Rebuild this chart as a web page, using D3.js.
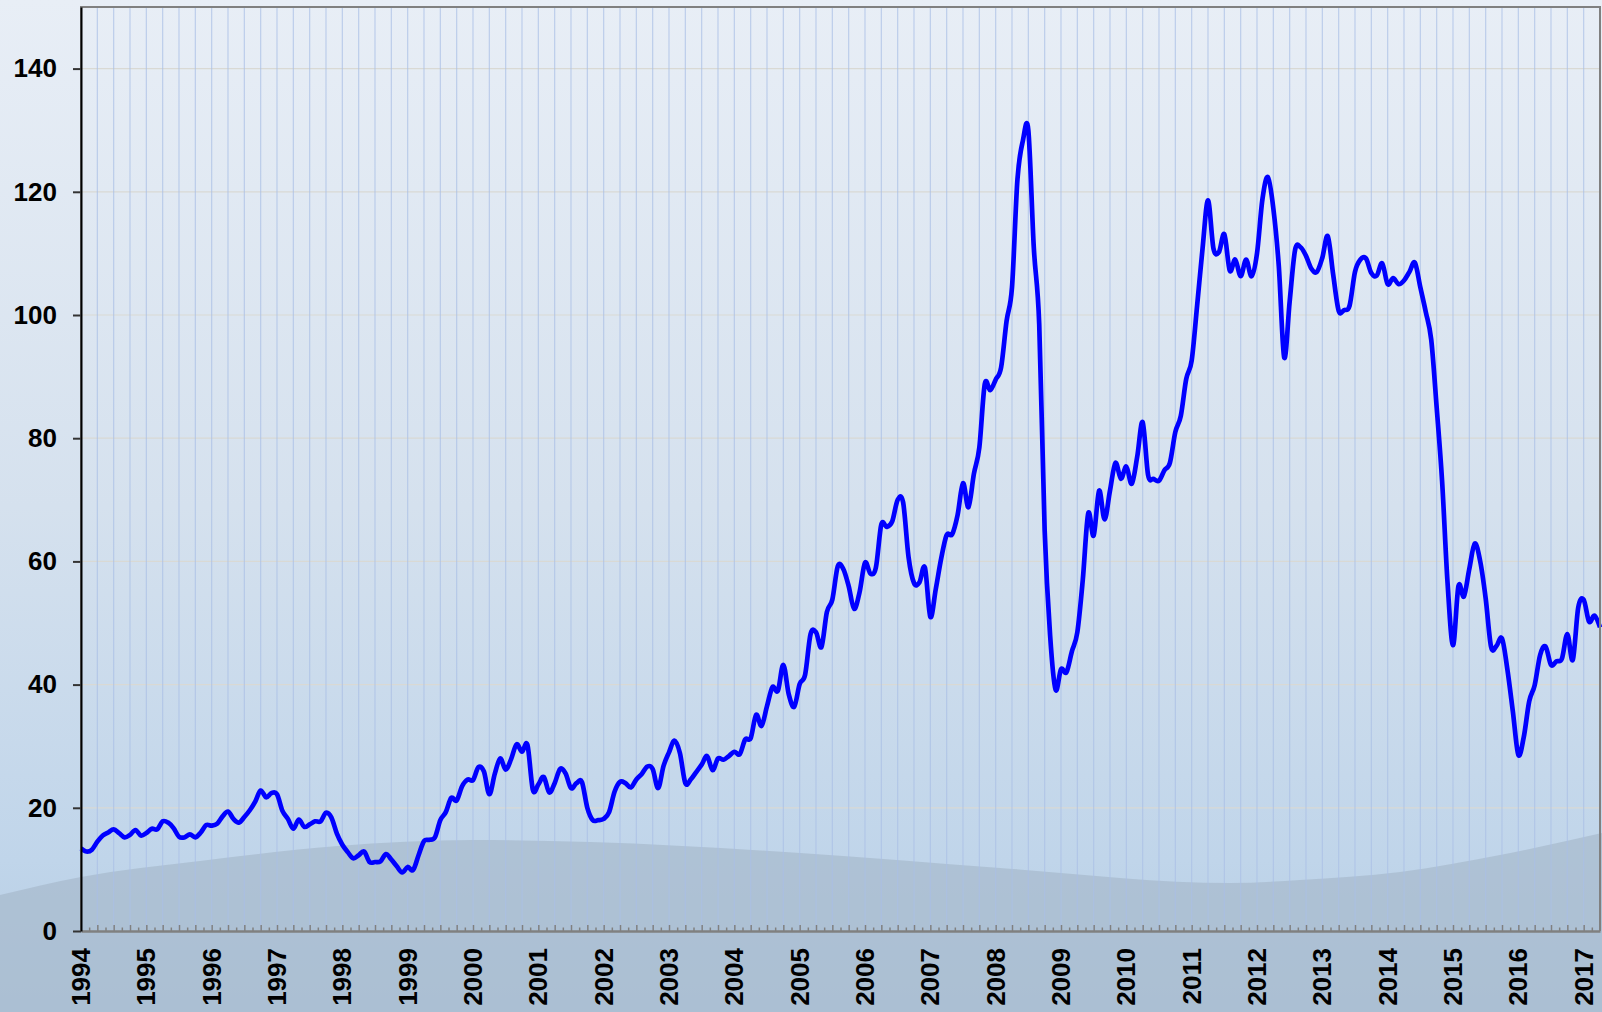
<!DOCTYPE html>
<html>
<head>
<meta charset="utf-8">
<script src="https://cdn.jsdelivr.net/npm/d3@7"></script>
<style>
html, body { margin: 0; padding: 0; background: #dfe8f2; }
svg { display: block; }
.lbl { font-family: "Liberation Sans", Arial, sans-serif; font-weight: bold; font-size: 26px; fill: #000; }
</style>
</head>
<body>
<svg id="chart" width="1602" height="1012"></svg>
<script>
// monthly prices, Jan 1994 .. Apr 2017
var startYear = 1994;
var prices = [
    13.4, 12.9, 13.2, 14.5, 15.5, 16.0, 16.5, 15.9, 15.2, 15.6, 16.4, 15.5,
    15.9, 16.6, 16.5, 17.8, 17.6, 16.7, 15.3, 15.2, 15.7, 15.2, 16.0, 17.2,
    17.1, 17.4, 18.6, 19.4, 18.2, 17.6, 18.5, 19.6, 21.0, 22.8, 21.7, 22.4,
    22.2, 19.5, 18.2, 16.6, 18.1, 16.9, 17.3, 17.8, 17.8, 19.2, 18.4, 15.8,
    14.0, 12.8, 11.8, 12.3, 12.9, 11.2, 11.2, 11.3, 12.5, 11.6, 10.5, 9.5,
    10.4, 9.9, 12.3, 14.6, 14.8, 15.2, 18.0, 19.3, 21.6, 21.2, 23.5, 24.6,
    24.5, 26.6, 25.9, 22.2, 25.5, 28.0, 26.2, 27.9, 30.3, 29.1, 30.2, 22.9,
    23.8, 25.0, 22.5, 24.0, 26.3, 25.6, 23.2, 24.0, 24.2, 20.0, 18.0, 18.0,
    18.2, 19.3, 22.6, 24.2, 24.0, 23.3, 24.6, 25.5, 26.7, 26.3, 23.2, 26.8,
    29.0, 30.9, 28.9, 24.0, 24.6, 25.8, 27.0, 28.4, 26.1, 28.0, 27.8, 28.4,
    29.1, 28.7, 31.1, 31.3, 35.1, 33.3, 36.5, 39.6, 39.0, 43.2, 38.4, 36.4,
    40.1, 41.6, 48.2, 48.5, 46.1, 51.8, 53.8, 59.2, 58.8, 56.0, 52.3, 55.0,
    59.8, 58.0, 59.0, 66.0, 65.6, 66.5, 70.0, 69.6, 60.7, 56.5, 56.6, 59.0,
    51.0, 55.5, 60.5, 64.3, 64.4, 67.5, 72.7, 68.8, 74.2, 78.5, 88.8, 87.8,
    89.5, 91.5, 99.0, 104.5, 122.0, 128.3, 130.0, 111.0, 98.5, 65.0, 48.0, 39.2,
    42.5, 42.0, 45.4, 48.5, 57.0, 67.8, 64.2, 71.5, 66.8, 71.5, 76.0, 73.4,
    75.4, 72.6, 77.0, 82.6, 74.0, 73.4, 73.1, 74.8, 76.0, 81.0, 83.6, 89.6,
    92.6, 101.5, 110.8, 118.6, 110.8, 110.2, 113.1, 107.2, 109.0, 106.3, 109.0, 106.3,
    110.0, 118.8, 122.4, 117.3, 108.0, 93.1, 102.2, 110.6, 111.0, 109.6, 107.5, 107.0,
    109.3, 112.8, 106.5, 100.7, 100.8, 101.5, 107.0, 109.0, 109.2, 106.8, 106.4, 108.4,
    105.0, 106.0, 105.0, 105.6, 107.0, 108.5, 104.5, 100.5, 96.0, 85.0, 73.0, 56.5,
    46.4, 56.0, 54.3, 58.8, 62.9, 60.0, 54.0, 46.1, 46.3, 47.5, 42.4, 35.6,
    28.6, 31.5, 37.3, 39.9, 44.8, 46.2, 43.2, 43.8, 44.2, 48.2, 44.0, 52.5,
    53.8, 50.2, 51.2, 49.3
];
var yTicks = [0, 20, 40, 60, 80, 100, 120, 140];
var yMax = 150;
var yearLabels = d3.range(startYear, 2018).map(String);

var Chart = function(svgID) {
    var svg, x, y;
    var W = 1602, H = 1012;
    var left = 81, right = 1600, top = 7, bottom = 931;
    init();

    function init() {
        svg = d3.select(svgID);
        x = d3.scaleLinear().domain([0, prices.length - 1]).range([left, right]);
        y = d3.scaleLinear().domain([0, yMax]).range([bottom, top]);
        drawBackground();
        drawGrid();
        drawLine();
        drawAxes();
    }

    function drawBackground() {
        var defs = svg.append("defs");
        var grad = defs.append("linearGradient")
            .attr("id", "bg").attr("x1", 0).attr("y1", 0).attr("x2", 0).attr("y2", 1);
        grad.append("stop").attr("offset", "0").attr("stop-color", "#e8eef6");
        grad.append("stop").attr("offset", "0.5").attr("stop-color", "#d5e1ee");
        grad.append("stop").attr("offset", "0.85").attr("stop-color", "#c0d5ea");
        grad.append("stop").attr("offset", "1").attr("stop-color", "#b4cbe2");
        svg.append("rect")
            .attr("width", W).attr("height", H)
            .attr("fill", "url(#bg)");

        // decorative gray swell along the bottom
        var wave = [[0, 895], [81, 877], [200, 861], [338, 846], [473, 840], [590, 842],
                    [800, 853], [1000, 868], [1230, 883], [1300, 880], [1400, 872],
                    [1500, 855], [1602, 833]];
        var area = d3.area()
            .x(function(d) { return d[0]; })
            .y0(H)
            .y1(function(d) { return d[1]; })
            .curve(d3.curveMonotoneX);
        svg.append("path")
            .attr("d", area(wave))
            .attr("fill", "#a8bbcd")
            .attr("opacity", 0.75);
    }

    function drawGrid() {
        var g = svg.append("g").attr("class", "grid");
        g.selectAll("line.h")
            .data(yTicks.filter(function(v) { return v > 0; }))
            .enter().append("line")
            .attr("class", "h")
            .attr("x1", left).attr("x2", right)
            .attr("y1", function(d) { return y(d); })
            .attr("y2", function(d) { return y(d); })
            .attr("stroke", "#d9d9d4").attr("stroke-width", 1.2);
        g.selectAll("line.v")
            .data(d3.range(3, prices.length, 3))
            .enter().append("line")
            .attr("class", "v")
            .attr("x1", function(d) { return x(d); })
            .attr("x2", function(d) { return x(d); })
            .attr("y1", top).attr("y2", bottom)
            .attr("stroke", "#a9bfe6").attr("stroke-opacity", 0.7).attr("stroke-width", 1.2);
    }

    function drawLine() {
        var line = d3.line()
            .x(function(d, i) { return x(i); })
            .y(function(d) { return y(d); })
            .curve(d3.curveCardinal.tension(0));
        svg.append("path")
            .datum(prices)
            .attr("d", line)
            .attr("fill", "none")
            .attr("stroke", "#0000ff")
            .attr("stroke-width", 4.7)
            .attr("stroke-linejoin", "round");
    }

    function drawAxes() {
        // frame top and right
        svg.append("path")
            .attr("d", d3.line()([[left, bottom], [left, top], [right, top], [right, bottom]]))
            .attr("fill", "none").attr("stroke", "#808080").attr("stroke-width", 2);

        var minor = d3.axisBottom(x)
            .tickValues(d3.range(1.5, prices.length - 1, 3))
            .tickSizeInner(-3.5).tickSizeOuter(0).tickFormat("");
        var major = d3.axisBottom(x)
            .tickValues(d3.range(3, prices.length - 1, 3))
            .tickSizeInner(-6).tickSizeOuter(0).tickFormat("");
        var gMinor = svg.append("g").attr("transform", "translate(0," + bottom + ")").call(minor);
        var gMajor = svg.append("g").attr("transform", "translate(0," + bottom + ")").call(major);
        [gMinor, gMajor].forEach(function(g) {
            g.selectAll(".tick line").attr("stroke", "#808080").attr("stroke-width", 1.5);
        });
        gMinor.select(".domain").remove();
        gMajor.select(".domain").attr("stroke", "#808080").attr("stroke-width", 2.5);

        var yAxis = d3.axisLeft(y)
            .tickValues(yTicks)
            .tickSizeInner(8).tickSizeOuter(0).tickPadding(16);
        var gy = svg.append("g").attr("transform", "translate(" + left + ",0)").call(yAxis);
        gy.select(".domain").attr("stroke", "#000").attr("stroke-width", 2);
        gy.selectAll(".tick line").attr("stroke", "#333").attr("stroke-width", 2);
        gy.selectAll(".tick text")
            .attr("class", "lbl")
            .attr("font-size", null).attr("font-family", null);

        svg.append("g").selectAll("text")
            .data(yearLabels)
            .enter().append("text")
            .attr("class", "lbl")
            .attr("text-anchor", "end")
            .attr("dy", "0.35em")
            .attr("transform", function(d, i) {
                return "translate(" + x(i * 12) + ",948) rotate(-90)";
            })
            .text(function(d) { return d; });
    }
}

var chart = new Chart("#chart");
</script>
</body>
</html>
